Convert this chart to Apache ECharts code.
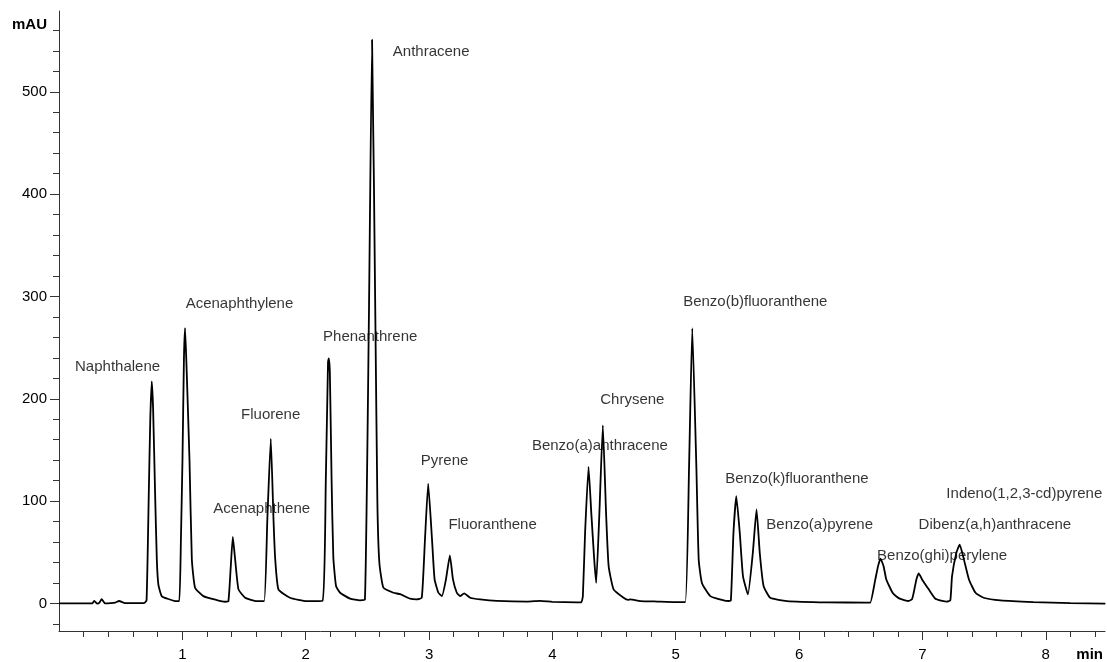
<!DOCTYPE html>
<html><head><meta charset="utf-8">
<script src="https://cdn.jsdelivr.net/npm/echarts@6/dist/echarts.min.js"></script>
<style>html,body{margin:0;padding:0;background:#fff}#c{width:1107px;height:662px}</style>
</head><body><div id="c"></div>
<script>
// Chromatogram trace: [retention time (min), signal (mAU)]
const tracePoints = [
  [0,0],[0.27,0],[0.286,2.3],[0.311,-0.3],[0.33,1],[0.346,4.2],[0.373,0],[0.42,0.3],[0.454,0.7],[0.487,2.3],[0.535,0.3],[0.6,0.2],[0.69,0.3],
  [0.71,3],[0.728,108],[0.74,180],[0.752,217],[0.763,190],[0.779,108],[0.793,43],[0.806,18],[0.833,7],[0.88,4.5],[0.94,2.3],[0.975,2.2],
  [0.988,60],[1.001,140],[1.013,240],[1.022,269],[1.033,235],[1.058,140],[1.077,43],[1.103,15.3],[1.17,7.1],[1.279,3.2],[1.346,1.6],[1.373,2],
  [1.391,33],[1.409,65],[1.428,43],[1.455,13.7],[1.509,5.5],[1.603,2.2],[1.663,2.2],
  [1.689,82],[1.717,161],[1.739,82],[1.753,43],[1.779,13.7],[1.873,5.5],[2.009,2.2],[2.136,2.5],
  [2.163,120],[2.181,236],[2.187,239.5],[2.196,225],[2.21,120],[2.224,45],[2.246,17],[2.279,10.4],[2.36,4.6],[2.44,3],[2.48,3.5],
  [2.512,275],[2.538,551],[2.565,275],[2.581,100],[2.597,40],[2.63,15.3],[2.711,10.4],[2.766,9],[2.847,4.6],[2.9,4],[2.941,5.5],
  [2.967,62.5],[2.993,117],[3.024,62.5],[3.045,23.4],[3.076,10.4],[3.104,7.1],
  [3.137,23.4],[3.169,47],[3.194,23.4],[3.225,10.4],[3.252,7.1],[3.285,9.8],[3.333,5.5],[3.414,3.9],[3.55,2.5],[3.8,1.8],[3.9,2.5],[4.0,1.5],[4.2,1],[4.235,1.2],[4.247,7],
  [4.265,69],[4.293,133.5],[4.315,89],[4.339,43],[4.355,20],
  [4.381,88.6],[4.409,174],[4.435,88.6],[4.456,36.4],[4.496,13.7],[4.577,5.5],[4.615,3.5],[4.631,3.9],[4.712,2.3],[4.85,1.8],[5.0,1.3],[5.077,1.3],
  [5.108,134],[5.134,269],[5.167,134],[5.186,43],[5.212,20],[5.28,7.1],[5.388,2.9],[5.428,2.3],[5.447,3],
  [5.468,69],[5.491,104.8],[5.519,69],[5.545,26.7],[5.585,8.8],
  [5.625,49.5],[5.655,91.8],[5.681,49.5],[5.712,17],[5.766,5.5],[5.901,2.3],[6.226,1],[6.55,0.8],[6.577,0.8],
  [6.618,23.4],[6.64,36.4],[6.66,43.7],[6.685,36.4],[6.707,23.4],[6.761,9.8],[6.815,4.6],[6.888,2.3],
  [6.915,4],[6.929,10.4],[6.951,23.4],[6.97,29.3],[6.997,23.4],[7.051,13.7],[7.105,4.6],[7.198,1.7],
  [7.226,3],[7.24,26.7],[7.275,49.5],[7.302,57.3],[7.336,43],[7.377,23.4],[7.43,10.4],[7.496,5.5],[7.632,2.9],[7.9,1.3],[8.2,0.3],[8.483,-0.3]
];

// Peak names and the point (min, mAU) where each name's text starts
const peakNames = [
  'Naphthalene','Acenaphthylene','Acenaphthene','Fluorene','Phenanthrene','Anthracene',
  'Pyrene','Fluoranthene','Benzo(a)anthracene','Chrysene','Benzo(b)fluoranthene',
  'Benzo(k)fluoranthene','Benzo(a)pyrene','Benzo(ghi)perylene','Dibenz(a,h)anthracene','Indeno(1,2,3-cd)pyrene'
];
const peakLabelAnchors = [
  [0.13,231.4],[1.027,292.7],[1.251,92.5],[1.476,183.9],[2.141,260.7],[2.706,538.8],
  [2.933,139],[3.157,76.5],[3.834,153.6],[4.388,199.2],[5.06,295],
  [5.401,122],[5.734,76.5],[6.632,46.2],[6.969,77.1],[7.194,107.4]
];

const xTickValues = [1,2,3,4,5,6,7,8];
const xMinorTickValues = [0.2,0.4,0.6,0.8,1.2,1.4,1.6,1.8,2.2,2.4,2.6,2.8,3.2,3.4,3.6,3.8,4.2,4.4,4.6,4.8,5.2,5.4,5.6,5.8,6.2,6.4,6.6,6.8,7.2,7.4,7.6,7.8,8.2,8.4];
const yTickValues = [0,100,200,300,400,500];
const yMinorTickValues = [-20,20,40,60,80,120,140,160,180,220,240,260,280,320,340,360,380,420,440,460,480,520,540,560];

const FONT = '"Liberation Sans", Arial, Helvetica, sans-serif';
const AXIS_COLOR = '#333';
const X_MIN = 0, X_MAX = 8.48, Y_MIN = -27, Y_MAX = 579;

const chart = echarts.init(document.getElementById('c'), null, {renderer: 'canvas'});
chart.setOption({
  animation: false,
  backgroundColor: '#fff',
  grid: {left: 59, right: 2, top: 11, bottom: 30},
  xAxis: [
    {
      type: 'value', min: X_MIN, max: X_MAX, position: 'bottom',
      axisLine: {show: true, onZero: false, lineStyle: {color: AXIS_COLOR, width: 1}},
      axisTick: {show: true, customValues: xTickValues, length: 9, lineStyle: {color: AXIS_COLOR}},
      axisLabel: {customValues: xTickValues, margin: 16, fontSize: 15, color: '#000', fontFamily: FONT},
      splitLine: {show: false}
    },
    {
      type: 'value', min: X_MIN, max: X_MAX, position: 'bottom',
      axisLine: {show: false, onZero: false},
      axisTick: {show: true, customValues: xMinorTickValues, length: 6, lineStyle: {color: AXIS_COLOR}},
      axisLabel: {show: false},
      splitLine: {show: false}
    }
  ],
  yAxis: [
    {
      type: 'value', min: Y_MIN, max: Y_MAX, position: 'left',
      axisLine: {show: true, onZero: false, lineStyle: {color: AXIS_COLOR, width: 1}},
      axisTick: {show: true, customValues: yTickValues, length: 9, lineStyle: {color: AXIS_COLOR}},
      axisLabel: {customValues: yTickValues, margin: 12, fontSize: 15, color: '#000', fontFamily: FONT},
      splitLine: {show: false}
    },
    {
      type: 'value', min: Y_MIN, max: Y_MAX, position: 'left',
      axisLine: {show: false, onZero: false},
      axisTick: {show: true, customValues: yMinorTickValues, length: 6, lineStyle: {color: AXIS_COLOR}},
      axisLabel: {show: false},
      splitLine: {show: false}
    }
  ],
  graphic: [
    {type: 'text', x: 47, y: 25, style: {text: 'mAU', font: 'bold 15px ' + FONT, fill: '#000', align: 'right', verticalAlign: 'middle'}},
    {type: 'text', x: 1103, y: 655, style: {text: 'min', font: 'bold 15px ' + FONT, fill: '#000', align: 'right', verticalAlign: 'middle'}}
  ],
  series: [
    {
      type: 'line', xAxisIndex: 0, yAxisIndex: 0,
      data: tracePoints, showSymbol: false, symbol: 'none',
      smooth: 0.15,
      lineStyle: {color: '#000', width: 1.8},
      silent: true, z: 2
    },
    {
      type: 'scatter', xAxisIndex: 0, yAxisIndex: 0,
      data: peakLabelAnchors.map((p, i) => ({value: p, name: peakNames[i]})),
      symbolSize: 0, silent: true, z: 3,
      label: {show: true, position: 'right', distance: 0, formatter: '{b}', fontSize: 15, color: '#000', fontFamily: FONT}
    }
  ]
});
</script>
</body></html>
